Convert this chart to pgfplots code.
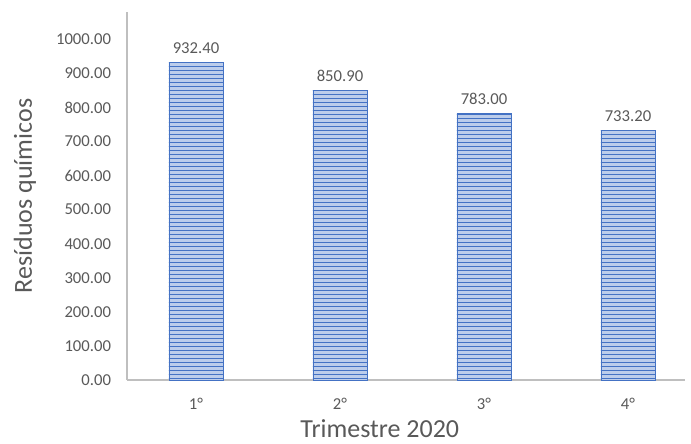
\documentclass[border=0pt]{standalone}
\usepackage{pgfplots}
\pgfplotsset{compat=1.18}
\usepackage{fontspec}
\setmainfont{Carlito}
\usetikzlibrary{patterns}
\definecolor{barblue}{HTML}{4472C4}
\definecolor{barlight}{HTML}{BCCDEB}
\definecolor{txtgray}{HTML}{595959}
\definecolor{axgray}{HTML}{BFBFBF}
\begin{document}
\begin{tikzpicture}
\useasboundingbox (-95.25pt,-47.25pt) rectangle (423pt,285pt);
\begin{axis}[
  at={(0,0)}, anchor=south west,
  scale only axis,
  width=418.5pt, height=276pt,
  xmin=-0.479, xmax=3.396,
  ymin=0, ymax=1080,
  axis lines*=left,
  axis line style={axgray, line width=1pt},
  every outer x axis line/.append style={-},
  every outer y axis line/.append style={-},
  xtick={0,1,2,3},
  xticklabels={1°,2°,3°,4°},
  ytick={0,100,...,1000},
  major tick length=0pt,
  yticklabel style={/pgf/number format/fixed, /pgf/number format/fixed zerofill, /pgf/number format/precision=2, /pgf/number format/set thousands separator={}, xshift=-8.5pt},
  /pgf/number format/assume math mode=true,
  tick label style={font=\fontsize{12.5}{14}\selectfont, text=txtgray},
  xticklabel style={yshift=-10pt},
  ylabel={Resíduos químicos},
  xlabel={Trimestre 2020},
  label style={font=\fontsize{19.5}{22}\selectfont, text=txtgray},
  ylabel style={at={(axis description cs:-0.183,0.5)}, anchor=center},
  xlabel style={at={(axis description cs:0.453,0)}, anchor=center, yshift=-36.5pt},
  ybar, bar width=0.375,
  nodes near coords,
  nodes near coords style={font=\fontsize{12.5}{14}\selectfont, text=txtgray, /pgf/number format/fixed, /pgf/number format/fixed zerofill, /pgf/number format/precision=2, /pgf/number format/assume math mode=true, yshift=3pt},
]
\addplot[draw=barblue, line width=0.6pt, fill=barlight, postaction={pattern=horizontal lines, pattern color=barblue}]
  coordinates {(0,932.40) (1,850.90) (2,783.00) (3,733.20)};
\end{axis}
\end{tikzpicture}
\end{document}
